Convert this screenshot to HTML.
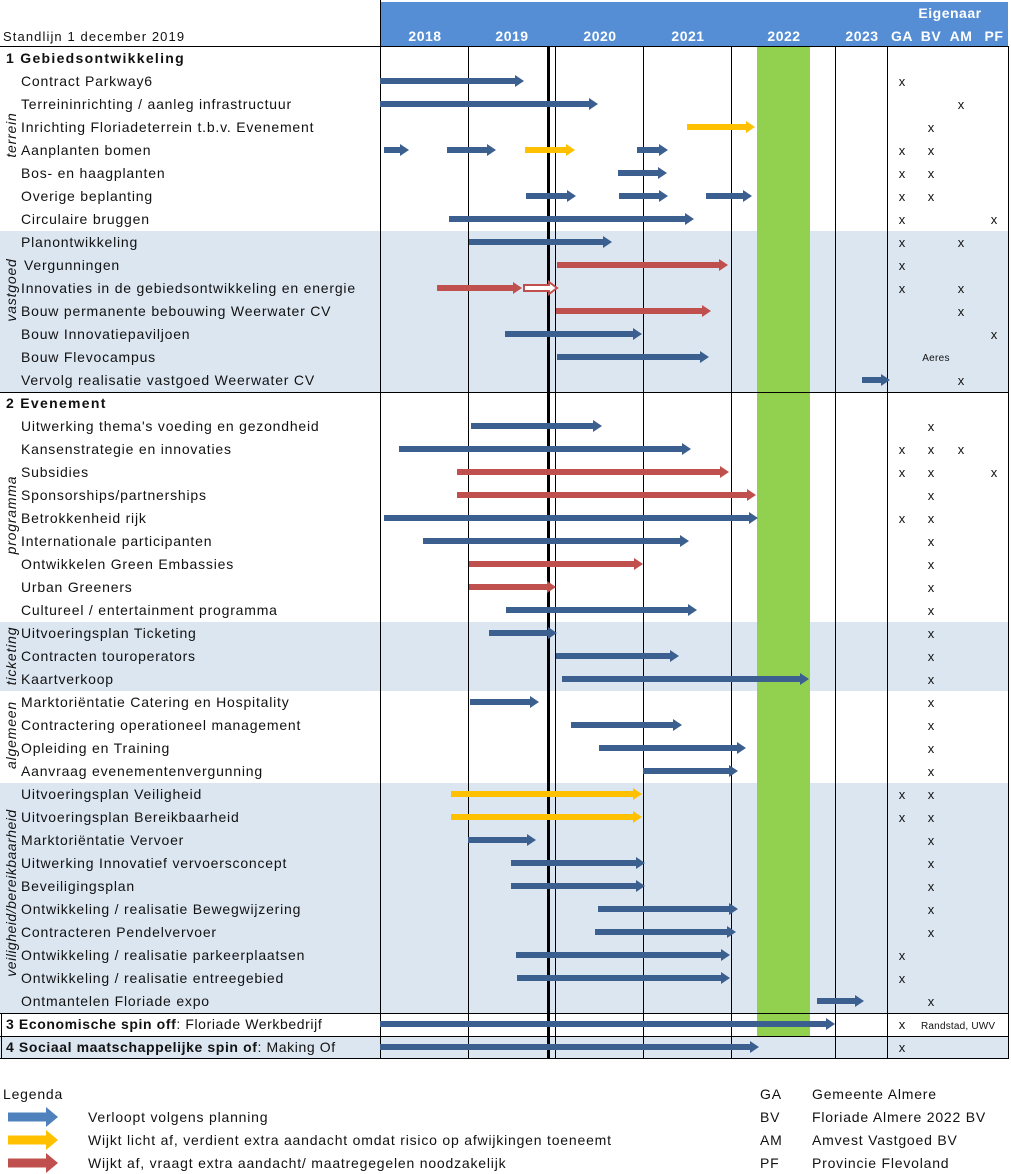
<!DOCTYPE html>
<html><head><meta charset="utf-8"><style>
html,body{margin:0;padding:0;background:#fff}
svg{display:block}
text{font-family:"Liberation Sans",sans-serif;font-size:14px;fill:#111;letter-spacing:0.8px}
.h{fill:#fff;font-weight:bold;font-size:14px;letter-spacing:0.5px}
.x{font-size:13px;letter-spacing:0}
.r{font-style:italic;font-size:14px}
</style></head><body>
<svg width="1011" height="1174" viewBox="0 0 1011 1174" xmlns="http://www.w3.org/2000/svg">
<defs>
<marker id="mb" markerWidth="9" markerHeight="12" refX="0" refY="6" orient="auto" markerUnits="userSpaceOnUse"><path d="M0,0L9,6L0,12z" fill="#3B5F8E"/></marker>
<marker id="mr" markerWidth="9" markerHeight="12" refX="0" refY="6" orient="auto" markerUnits="userSpaceOnUse"><path d="M0,0L9,6L0,12z" fill="#C0504D"/></marker>
<marker id="my" markerWidth="9" markerHeight="12" refX="0" refY="6" orient="auto" markerUnits="userSpaceOnUse"><path d="M0,0L9,6L0,12z" fill="#FFC000"/></marker>
<marker id="ml" markerWidth="12" markerHeight="20" refX="0" refY="10" orient="auto" markerUnits="userSpaceOnUse"><path d="M0,0L12,10L0,20z" fill="#4F81BD"/></marker>
<marker id="mly" markerWidth="12" markerHeight="20" refX="0" refY="10" orient="auto" markerUnits="userSpaceOnUse"><path d="M0,0L12,10L0,20z" fill="#FFC000"/></marker>
<marker id="mlr" markerWidth="12" markerHeight="20" refX="0" refY="10" orient="auto" markerUnits="userSpaceOnUse"><path d="M0,0L12,10L0,20z" fill="#C0504D"/></marker>
</defs>
<rect x="380" y="2" width="628" height="44" fill="#558ED5"/>
<text x="950" y="18" class="h" text-anchor="middle">Eigenaar</text>
<text x="425" y="41" class="h" text-anchor="middle">2018</text>
<text x="512" y="41" class="h" text-anchor="middle">2019</text>
<text x="600" y="41" class="h" text-anchor="middle">2020</text>
<text x="688" y="41" class="h" text-anchor="middle">2021</text>
<text x="784" y="41" class="h" text-anchor="middle">2022</text>
<text x="862" y="41" class="h" text-anchor="middle">2023</text>
<text x="902" y="41" class="h" text-anchor="middle">GA</text>
<text x="931" y="41" class="h" text-anchor="middle">BV</text>
<text x="961" y="41" class="h" text-anchor="middle">AM</text>
<text x="994" y="41" class="h" text-anchor="middle">PF</text>
<text x="3" y="41" style="font-size:13px;letter-spacing:1.1px">Standlijn 1 december 2019</text>
<rect x="0" y="231" width="1008" height="161" fill="#DCE6F1"/>
<rect x="0" y="622" width="1008" height="69" fill="#DCE6F1"/>
<rect x="0" y="783" width="1008" height="230" fill="#DCE6F1"/>
<rect x="0" y="1036" width="1008" height="22" fill="#DCE6F1"/>
<rect x="757" y="47" width="53" height="989" fill="#92D050"/>
<g stroke="#000" stroke-width="1">
<line x1="380.5" y1="0" x2="380.5" y2="1058"/>
<line x1="468.5" y1="46" x2="468.5" y2="1058"/>
<line x1="555.5" y1="46" x2="555.5" y2="1058"/>
<line x1="643.5" y1="46" x2="643.5" y2="1058"/>
<line x1="731.5" y1="46" x2="731.5" y2="1058"/>
<line x1="835.5" y1="46" x2="835.5" y2="1058"/>
<line x1="887.5" y1="46" x2="887.5" y2="1058"/>
<line x1="1008.5" y1="46" x2="1008.5" y2="1058"/>
<line x1="0" y1="46.5" x2="1009" y2="46.5"/>
<line x1="0" y1="392.5" x2="1009" y2="392.5"/>
<line x1="0" y1="1013.5" x2="1009" y2="1013.5"/>
<line x1="0" y1="1036.5" x2="1009" y2="1036.5"/>
<line x1="0" y1="1058.5" x2="1009" y2="1058.5"/>
<line x1="1.5" y1="1013" x2="1.5" y2="1058"/>
</g>
<rect x="547" y="46" width="3" height="1012" fill="#000"/>
<text class="r" transform="translate(16,135) rotate(-90)" text-anchor="middle">terrein</text>
<text class="r" transform="translate(16,290) rotate(-90)" text-anchor="middle">vastgoed</text>
<text class="r" transform="translate(16,515) rotate(-90)" text-anchor="middle">programma</text>
<text class="r" transform="translate(16,656) rotate(-90)" text-anchor="middle">ticketing</text>
<text class="r" transform="translate(16,735) rotate(-90)" text-anchor="middle">algemeen</text>
<text class="r" transform="translate(16,893) rotate(-90)" text-anchor="middle" style="letter-spacing:0.5px">veiligheid/bereikbaarheid</text>
<text x="6" y="63" font-weight="bold" style="letter-spacing:1.3px">1 Gebiedsontwikkeling</text>
<text x="21" y="86">Contract Parkway6</text>
<text x="21" y="109">Terreininrichting / aanleg infrastructuur</text>
<text x="21" y="132">Inrichting Floriadeterrein t.b.v. Evenement</text>
<text x="21" y="155">Aanplanten bomen</text>
<text x="21" y="178">Bos- en haagplanten</text>
<text x="21" y="201">Overige beplanting</text>
<text x="21" y="224">Circulaire bruggen</text>
<text x="21" y="247">Planontwikkeling</text>
<text x="24" y="270">Vergunningen</text>
<text x="21" y="293">Innovaties in de gebiedsontwikkeling en energie</text>
<text x="21" y="316">Bouw permanente bebouwing Weerwater CV</text>
<text x="21" y="339">Bouw Innovatiepaviljoen</text>
<text x="21" y="362">Bouw Flevocampus</text>
<text x="21" y="385">Vervolg realisatie vastgoed Weerwater CV</text>
<text x="6" y="408" font-weight="bold" style="letter-spacing:1.3px">2 Evenement</text>
<text x="21" y="431">Uitwerking thema's voeding en gezondheid</text>
<text x="21" y="454">Kansenstrategie en innovaties</text>
<text x="21" y="477">Subsidies</text>
<text x="21" y="500">Sponsorships/partnerships</text>
<text x="21" y="523">Betrokkenheid rijk</text>
<text x="21" y="546">Internationale participanten</text>
<text x="21" y="569">Ontwikkelen Green Embassies</text>
<text x="21" y="592">Urban Greeners</text>
<text x="21" y="615">Cultureel / entertainment programma</text>
<text x="21" y="638">Uitvoeringsplan Ticketing</text>
<text x="21" y="661">Contracten touroperators</text>
<text x="21" y="684">Kaartverkoop</text>
<text x="21" y="707">Marktoriëntatie Catering en Hospitality</text>
<text x="21" y="730">Contractering operationeel management</text>
<text x="21" y="753">Opleiding en Training</text>
<text x="21" y="776">Aanvraag evenementenvergunning</text>
<text x="21" y="799">Uitvoeringsplan Veiligheid</text>
<text x="21" y="822">Uitvoeringsplan Bereikbaarheid</text>
<text x="21" y="845">Marktoriëntatie Vervoer</text>
<text x="21" y="868">Uitwerking Innovatief vervoersconcept</text>
<text x="21" y="891">Beveiligingsplan</text>
<text x="21" y="914">Ontwikkeling / realisatie Bewegwijzering</text>
<text x="21" y="937">Contracteren Pendelvervoer</text>
<text x="21" y="960">Ontwikkeling / realisatie parkeerplaatsen</text>
<text x="21" y="983">Ontwikkeling / realisatie entreegebied</text>
<text x="21" y="1006">Ontmantelen Floriade expo</text>
<text x="6" y="1029" style="letter-spacing:0.6px"><tspan font-weight="bold">3 Economische spin off</tspan>: Floriade Werkbedrijf</text>
<text x="6" y="1052" style="letter-spacing:0.6px"><tspan font-weight="bold">4 Sociaal maatschappelijke spin of</tspan>: Making Of</text>
<g stroke="#3B5F8E" stroke-width="6" marker-end="url(#mb)">
<line x1="380" y1="81" x2="515" y2="81"/>
<line x1="380" y1="104" x2="589" y2="104"/>
<line x1="384" y1="150" x2="400" y2="150"/>
<line x1="447" y1="150" x2="487" y2="150"/>
<line x1="637" y1="150" x2="659" y2="150"/>
<line x1="618" y1="173" x2="658" y2="173"/>
<line x1="526" y1="196" x2="567" y2="196"/>
<line x1="619" y1="196" x2="659" y2="196"/>
<line x1="706" y1="196" x2="743" y2="196"/>
<line x1="449" y1="219" x2="685" y2="219"/>
<line x1="469" y1="242" x2="603" y2="242"/>
<line x1="505" y1="334" x2="633" y2="334"/>
<line x1="557" y1="357" x2="700" y2="357"/>
<line x1="862" y1="380" x2="881" y2="380"/>
<line x1="471" y1="426" x2="593" y2="426"/>
<line x1="399" y1="449" x2="682" y2="449"/>
<line x1="384" y1="518" x2="749" y2="518"/>
<line x1="423" y1="541" x2="680" y2="541"/>
<line x1="506" y1="610" x2="688" y2="610"/>
<line x1="489" y1="633" x2="548" y2="633"/>
<line x1="556" y1="656" x2="670" y2="656"/>
<line x1="562" y1="679" x2="800" y2="679"/>
<line x1="470" y1="702" x2="530" y2="702"/>
<line x1="571" y1="725" x2="673" y2="725"/>
<line x1="599" y1="748" x2="737" y2="748"/>
<line x1="643" y1="771" x2="729" y2="771"/>
<line x1="468" y1="840" x2="527" y2="840"/>
<line x1="511" y1="863" x2="636" y2="863"/>
<line x1="511" y1="886" x2="636" y2="886"/>
<line x1="598" y1="909" x2="729" y2="909"/>
<line x1="595" y1="932" x2="727" y2="932"/>
<line x1="516" y1="955" x2="721" y2="955"/>
<line x1="517" y1="978" x2="721" y2="978"/>
<line x1="817" y1="1001" x2="855" y2="1001"/>
<line x1="380" y1="1024" x2="826" y2="1024"/>
<line x1="380" y1="1047" x2="750" y2="1047"/>
</g>
<g stroke="#C0504D" stroke-width="6" marker-end="url(#mr)">
<line x1="557" y1="265" x2="719" y2="265"/>
<line x1="437" y1="288" x2="513" y2="288"/>
<line x1="556" y1="311" x2="702" y2="311"/>
<line x1="457" y1="472" x2="720" y2="472"/>
<line x1="457" y1="495" x2="747" y2="495"/>
<line x1="469" y1="564" x2="634" y2="564"/>
<line x1="469" y1="587" x2="547" y2="587"/>
</g>
<polygon points="524,285 549,285 549,282 557,288 549,294 549,291 524,291" fill="#fff" stroke="#C0504D" stroke-width="2"/>
<g stroke="#FFC000" stroke-width="6" marker-end="url(#my)">
<line x1="687" y1="127" x2="746" y2="127"/>
<line x1="525" y1="150" x2="566" y2="150"/>
<line x1="451" y1="794" x2="633" y2="794"/>
<line x1="451" y1="817" x2="633" y2="817"/>
</g>
<g>
<text x="902" y="86" class="x" text-anchor="middle">x</text>
<text x="961" y="109" class="x" text-anchor="middle">x</text>
<text x="931" y="132" class="x" text-anchor="middle">x</text>
<text x="902" y="155" class="x" text-anchor="middle">x</text><text x="931" y="155" class="x" text-anchor="middle">x</text>
<text x="902" y="178" class="x" text-anchor="middle">x</text><text x="931" y="178" class="x" text-anchor="middle">x</text>
<text x="902" y="201" class="x" text-anchor="middle">x</text><text x="931" y="201" class="x" text-anchor="middle">x</text>
<text x="902" y="224" class="x" text-anchor="middle">x</text><text x="994" y="224" class="x" text-anchor="middle">x</text>
<text x="902" y="247" class="x" text-anchor="middle">x</text><text x="961" y="247" class="x" text-anchor="middle">x</text>
<text x="902" y="270" class="x" text-anchor="middle">x</text>
<text x="902" y="293" class="x" text-anchor="middle">x</text><text x="961" y="293" class="x" text-anchor="middle">x</text>
<text x="961" y="316" class="x" text-anchor="middle">x</text>
<text x="994" y="339" class="x" text-anchor="middle">x</text>
<text x="936" y="361" text-anchor="middle" style="font-size:10px;letter-spacing:0.3px">Aeres</text>
<text x="961" y="385" class="x" text-anchor="middle">x</text>
<text x="931" y="431" class="x" text-anchor="middle">x</text>
<text x="902" y="454" class="x" text-anchor="middle">x</text><text x="931" y="454" class="x" text-anchor="middle">x</text><text x="961" y="454" class="x" text-anchor="middle">x</text>
<text x="902" y="477" class="x" text-anchor="middle">x</text><text x="931" y="477" class="x" text-anchor="middle">x</text><text x="994" y="477" class="x" text-anchor="middle">x</text>
<text x="931" y="500" class="x" text-anchor="middle">x</text>
<text x="902" y="523" class="x" text-anchor="middle">x</text><text x="931" y="523" class="x" text-anchor="middle">x</text>
<text x="931" y="546" class="x" text-anchor="middle">x</text>
<text x="931" y="569" class="x" text-anchor="middle">x</text>
<text x="931" y="592" class="x" text-anchor="middle">x</text>
<text x="931" y="615" class="x" text-anchor="middle">x</text>
<text x="931" y="638" class="x" text-anchor="middle">x</text>
<text x="931" y="661" class="x" text-anchor="middle">x</text>
<text x="931" y="684" class="x" text-anchor="middle">x</text>
<text x="931" y="707" class="x" text-anchor="middle">x</text>
<text x="931" y="730" class="x" text-anchor="middle">x</text>
<text x="931" y="753" class="x" text-anchor="middle">x</text>
<text x="931" y="776" class="x" text-anchor="middle">x</text>
<text x="902" y="799" class="x" text-anchor="middle">x</text><text x="931" y="799" class="x" text-anchor="middle">x</text>
<text x="902" y="822" class="x" text-anchor="middle">x</text><text x="931" y="822" class="x" text-anchor="middle">x</text>
<text x="931" y="845" class="x" text-anchor="middle">x</text>
<text x="931" y="868" class="x" text-anchor="middle">x</text>
<text x="931" y="891" class="x" text-anchor="middle">x</text>
<text x="931" y="914" class="x" text-anchor="middle">x</text>
<text x="931" y="937" class="x" text-anchor="middle">x</text>
<text x="902" y="960" class="x" text-anchor="middle">x</text>
<text x="902" y="983" class="x" text-anchor="middle">x</text>
<text x="931" y="1006" class="x" text-anchor="middle">x</text>
<text x="902" y="1029" class="x" text-anchor="middle">x</text>
<text x="921" y="1029" text-anchor="start" style="font-size:10px;letter-spacing:0.2px">Randstad, UWV</text>
<text x="902" y="1052" class="x" text-anchor="middle">x</text>
</g>
<text x="3" y="1099">Legenda</text>
<line x1="8" y1="1117" x2="46" y2="1117" stroke="#4F81BD" stroke-width="9" marker-end="url(#ml)"/>
<line x1="8" y1="1140" x2="46" y2="1140" stroke="#FFC000" stroke-width="9" marker-end="url(#mly)"/>
<line x1="8" y1="1163" x2="46" y2="1163" stroke="#C0504D" stroke-width="9" marker-end="url(#mlr)"/>
<text x="88" y="1122">Verloopt volgens planning</text>
<text x="88" y="1145">Wijkt licht af, verdient extra aandacht omdat risico op afwijkingen toeneemt</text>
<text x="88" y="1168">Wijkt af, vraagt extra aandacht/ maatregegelen noodzakelijk</text>
<text x="760" y="1099">GA</text><text x="812" y="1099">Gemeente Almere</text>
<text x="760" y="1122">BV</text><text x="812" y="1122">Floriade Almere 2022 BV</text>
<text x="760" y="1145">AM</text><text x="812" y="1145">Amvest Vastgoed BV</text>
<text x="760" y="1168">PF</text><text x="812" y="1168">Provincie Flevoland</text>
</svg>
</body></html>
